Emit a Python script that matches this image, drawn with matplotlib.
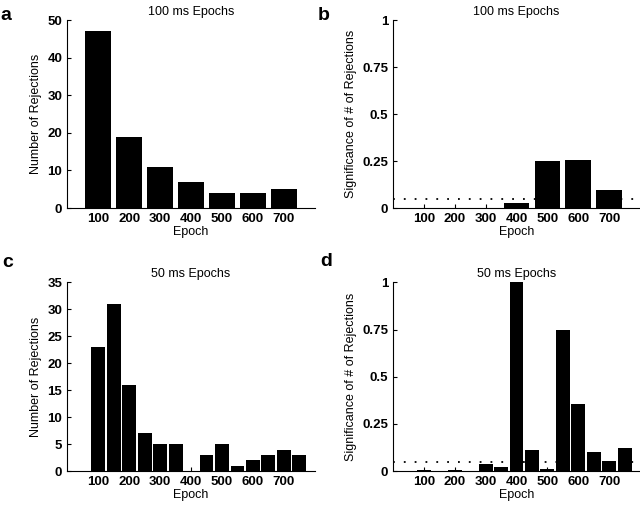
import matplotlib.pyplot as plt

plt.rcParams['font.family'] = ['Liberation Sans', 'DejaVu Sans']
plt.rcParams['font.size'] = 9

# 100 ms epochs
epochs_100 = [100, 200, 300, 400, 500, 600, 700]
rejections_100 = [47, 19, 11, 7, 4, 4, 5]
signif_100 = [0.0, 0.0, 0.0, 0.028, 0.253, 0.258, 0.097]

# 50 ms epochs
epochs_50 = [100, 150, 200, 250, 300, 350, 400, 450, 500, 550, 600, 650, 700, 750]
rejections_50 = [23, 31, 16, 7, 5, 5, 0, 3, 5, 1, 2, 3, 4, 3]
signif_50 = [0.004, 0.0, 0.004, 0.003, 0.037, 0.02, 1.0, 0.11, 0.01, 0.745, 0.355, 0.1, 0.055, 0.125]

epoch_ticks = [100, 200, 300, 400, 500, 600, 700]
alpha_level = 0.05

fig = plt.figure(figsize=(6.4, 5.05), dpi=100)

def setup(ax, title, ylabel, yticks, yticklabels):
    ax.set_xlim(0, 800)
    ax.set_xticks(epoch_ticks)
    ax.set_yticks(yticks)
    ax.set_yticklabels(yticklabels)
    ax.set_ylim(yticks[0], yticks[-1])
    ax.spines['top'].set_visible(False)
    ax.spines['right'].set_visible(False)
    ax.tick_params(direction='in', length=3, width=0.8, labelsize=9.5)
    for lab in ax.get_xticklabels() + ax.get_yticklabels():
        lab.set_fontweight('bold')
    ax.set_title(title, fontsize=9, pad=4)
    ax.set_xlabel('Epoch', labelpad=1)
    ax.set_ylabel(ylabel, labelpad=4)

sig_ticks = [0, 0.25, 0.5, 0.75, 1]
sig_labels = ['0', '0.25', '0.5', '0.75', '1']

# a
ax_a = fig.add_axes([0.105, 0.588, 0.387, 0.372])
ax_a.bar(epochs_100, rejections_100, width=83, color='black', edgecolor='none')
setup(ax_a, '100 ms Epochs', 'Number of Rejections', list(range(0, 51, 10)),
      [str(v) for v in range(0, 51, 10)])

# b
ax_b = fig.add_axes([0.614, 0.588, 0.386, 0.372])
ax_b.bar(epochs_100, signif_100, width=83, color='black', edgecolor='none')
ax_b.axhline(alpha_level, color='black', linestyle=(0, (1, 5)), linewidth=1.3)
setup(ax_b, '100 ms Epochs', 'Significance of # of Rejections', sig_ticks, sig_labels)

# c
ax_c = fig.add_axes([0.105, 0.067, 0.387, 0.374])
ax_c.bar(epochs_50, rejections_50, width=45, color='black', edgecolor='none')
setup(ax_c, '50 ms Epochs', 'Number of Rejections', list(range(0, 36, 5)),
      [str(v) for v in range(0, 36, 5)])

# d
ax_d = fig.add_axes([0.614, 0.067, 0.386, 0.374])
ax_d.bar(epochs_50, signif_50, width=45, color='black', edgecolor='none')
ax_d.axhline(alpha_level, color='black', linestyle=(0, (1, 5)), linewidth=1.3)
setup(ax_d, '50 ms Epochs', 'Significance of # of Rejections', sig_ticks, sig_labels)

# panel letters
for x, y, letter in [(0.0, 0.970, 'a'), (0.497, 0.970, 'b'), (0.003, 0.481, 'c'), (0.500, 0.483, 'd')]:
    fig.text(x, y, letter, fontsize=14, fontweight='bold', va='center')

fig.savefig('out.png', dpi=100)
